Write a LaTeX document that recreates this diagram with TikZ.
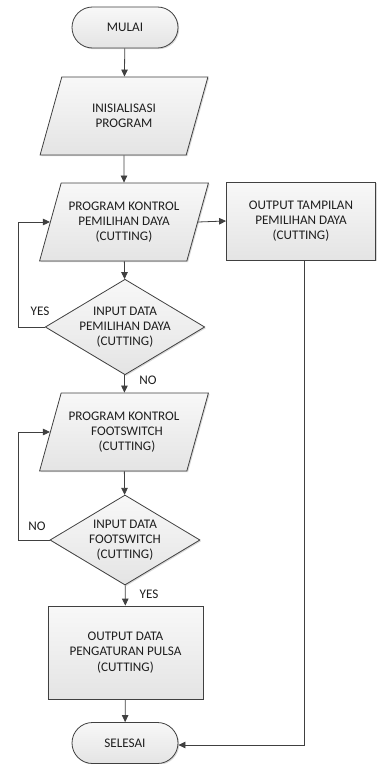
\documentclass[tikz,border=0pt]{standalone}
\usepackage{fontspec}
\setmainfont{Carlito}
\usetikzlibrary{shapes.geometric,shapes.misc,arrows.meta,shadows}
\definecolor{lineC}{HTML}{404040}
\definecolor{textC}{HTML}{1E1E1E}
\definecolor{fillTop}{HTML}{F8F8F8}
\definecolor{fillBot}{HTML}{E4E4E4}
\tikzset{
  base/.style={draw=lineC, line width=0.8bp, top color=fillTop, bottom color=fillBot,
    text=textC, font=\fontsize{13.2}{15.3}\selectfont, align=center, inner sep=0pt,
    drop shadow={shadow xshift=1.2bp, shadow yshift=-1.2bp, opacity=0.25, fill=black!60}},
  term/.style={base, rounded rectangle, minimum width=106bp, minimum height=41bp},
  iobox/.style={base, trapezium, trapezium left angle=65, trapezium right angle=115,
    trapezium stretches=true, minimum width=169bp, minimum height=78bp},
  procbox/.style={base, rectangle, minimum width=155bp, minimum height=93bp},
  decbox/.style={base, diamond, minimum width=150bp, minimum height=90bp, aspect=1.67},
  arr/.style={draw=lineC, line width=0.8bp, -{Triangle[length=7bp,width=6.5bp]}},
  lbl/.style={text=textC, font=\fontsize{13.2}{14}\selectfont, inner sep=0pt}
}
\begin{document}
\begin{tikzpicture}[x=1bp,y=-1bp]
\useasboundingbox (0,0) rectangle (376,764);
\node[term] (mulai) at (125,27.5) {MULAI};
\node[iobox] (init) at (124,116) {INISIALISASI\\PROGRAM};
\node[iobox] (pk1) at (124,222) {PROGRAM KONTROL\\PEMILIHAN DAYA\\(CUTTING)};
\node[base, rectangle, minimum width=149bp, minimum height=78bp] (out1) at (301,221) {OUTPUT TAMPILAN\\PEMILIHAN DAYA\\(CUTTING)};
\node[decbox] (d1) at (125,327) {INPUT DATA\\PEMILIHAN DAYA\\(CUTTING)};
\node[iobox] (pk2) at (124,432) {PROGRAM KONTROL\\\hspace*{6bp}FOOTSWITCH\\\hspace*{6bp}(CUTTING)};
\node[decbox] (d2) at (125,540) {INPUT DATA\\FOOTSWITCH\\(CUTTING)};
\node[procbox] (out2) at (125.5,652.5) {OUTPUT DATA\\PENGATURAN PULSA\\(CUTTING)};
\node[term] (selesai) at (125,743) {SELESAI};
\coordinate (rl) at (304,745);
\coordinate (l1) at (18,327);
\coordinate (l2) at (18,540);

\draw[arr] (mulai) -- (init);
\draw[arr] (init) -- (pk1);
\draw[arr] (pk1.east) -- (out1.west);
\draw[arr] (pk1) -- (d1);
\draw[arr] (d1.west) -- (l1) |- (pk1.west);
\draw[arr] (d1) -- (pk2);
\draw[arr] (pk2) -- (d2);
\draw[arr] (d2.west) -- (l2) |- (pk2.west);
\draw[arr] (d2) -- (out2);
\draw[arr] (out2) -- (selesai);
\draw[arr] (out1.south -| rl) -- (rl) -- (selesai.east |- rl);

\node[lbl] (yes1) at (40,311) {YES};
\node[lbl] (no1) at (148,380) {NO};
\node[lbl] (no2) at (37,526) {NO};
\node[lbl] (yes2) at (149,594) {YES};
\end{tikzpicture}
\end{document}
